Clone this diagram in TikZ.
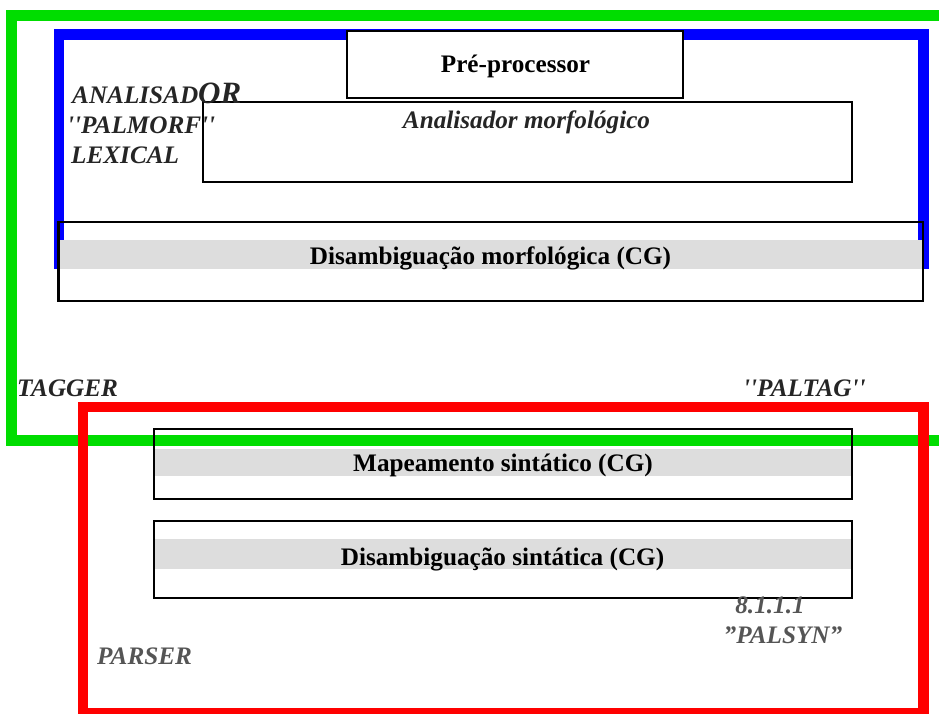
\documentclass[tikz,border=0pt]{standalone}
\usepackage{fontspec}
\setmainfont{Liberation Serif}
\newfontfamily\plainf{Liberation Serif}
\definecolor{frgreen}{HTML}{00DD00}
\definecolor{frblue}{HTML}{0000FF}
\definecolor{frred}{HTML}{FF0000}
\definecolor{band}{HTML}{DDDDDD}
\definecolor{darklab}{HTML}{252525}
\definecolor{greylab}{HTML}{555555}
\tikzset{
  frame/.style={line width=10.5pt},
  stagebox/.style={draw=black, line width=2.1pt, inner sep=0pt},
  bandfill/.style={fill=band, draw=none},
  boxtext/.style={font=\fontsize{25.2}{30}\selectfont\bfseries, inner sep=0pt, text=black},
  itlab/.style={font=\fontsize{25.2}{30}\selectfont\bfseries\itshape, inner sep=0pt, text=darklab},
  greylabel/.style={font=\fontsize{25.2}{30}\selectfont\bfseries\itshape, inner sep=0pt, text=greylab},
}
\begin{document}
\begin{tikzpicture}[x=1pt,y=-1pt]
\useasboundingbox (0,0) rectangle (939,713);
\clip (0,0) rectangle (939,713);
% green frame (TAGGER)
\draw[frame, frgreen] (11.5,15.5) rectangle (960,440.5);
% blue frame (ANALISADOR LEXICAL)
\draw[frame, frblue] (59,34.5) rectangle (923.5,264);
% red frame (PARSER)
\draw[frame, frred] (83,407) rectangle (923.5,713);

% Pre-processor
\node[stagebox, fill=white, minimum width=336pt, minimum height=67pt] (pre) at (515,64.5) {};
\node[boxtext, anchor=base] (pret) at (515.5,72) {Pré-processor};

% Analisador morfologico
\node[stagebox, minimum width=649pt, minimum height=80pt] (morf) at (527.5,142) {};
\node[itlab, anchor=base] (morft) at (526.5,128) {Analisador morfológico};

% Disambiguacao morfologica
\node[stagebox, minimum width=864.5pt, minimum height=79pt] (dmorf) at (490.75,261.5) {};
\fill[bandfill] (60,240) rectangle (921.5,269);
\node[boxtext, anchor=base] (dmorft) at (490.5,264) {Disambiguação morfológica (CG)};

% Mapeamento sintatico
\node[stagebox, minimum width=698pt, minimum height=70pt] (map) at (503,464) {};
\fill[bandfill] (155,449) rectangle (851,476);
\node[boxtext, anchor=base] (mapt) at (503,471) {Mapeamento sintático (CG)};

% Disambiguacao sintatica
\node[stagebox, minimum width=698pt, minimum height=77pt] (dsin) at (503,559.5) {};
\fill[bandfill] (155,539) rectangle (851,569);
\node[boxtext, anchor=base] (dsint) at (502.5,565) {Disambiguação sintática (CG)};

% labels
\node[itlab, anchor=base west] (anal) at (72,103) {ANALISAD{\fontsize{31}{30}\selectfont OR}};
\node[itlab, anchor=base west] (palmorf) at (67,133) {\plainf\bfseries\itshape ''PALMORF''};
\node[itlab, anchor=base west] (lex) at (71,163) {LEXICAL};
\node[itlab, anchor=base west] (tagger) at (17,396) {TAGGER};
\node[itlab, anchor=base west] (paltag) at (743,396) {\plainf\bfseries\itshape ''PALTAG''};
\node[greylabel, anchor=base] (num) at (770,613) {8.1.1.1};
\node[greylabel, anchor=base] (palsyn) at (783,643) {”PALSYN”};
\node[greylabel, anchor=base west] (parser) at (97,664) {PARSER};
\end{tikzpicture}
\end{document}
